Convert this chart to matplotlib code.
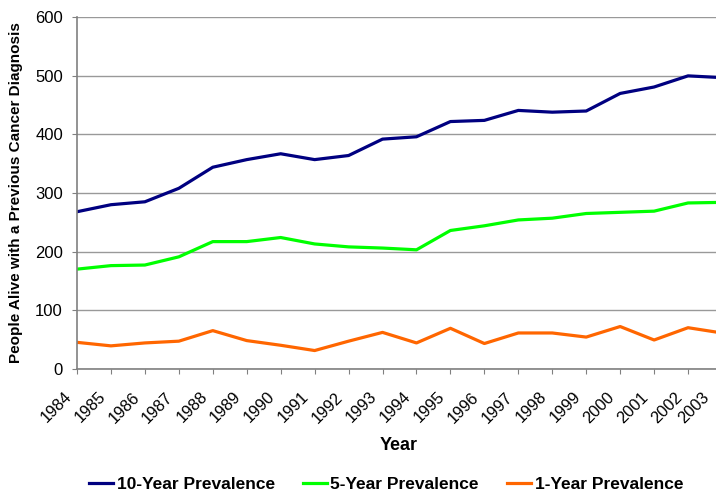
import matplotlib
matplotlib.use('Agg')
import matplotlib.pyplot as plt
import matplotlib.transforms as mtransforms

years = list(range(1984, 2004))
prev_10 = [268, 280, 285, 308, 344, 357, 367, 357, 364, 392, 396, 422, 424, 441, 438, 440, 470, 481, 500, 497]
prev_5 = [170, 176, 177, 191, 217, 217, 224, 213, 208, 206, 203, 236, 244, 254, 257, 265, 267, 269, 283, 284]
prev_1 = [45, 39, 44, 47, 65, 48, 40, 31, 47, 62, 44, 69, 43, 61, 61, 54, 72, 49, 70, 61]

plt.rcParams['font.family'] = ['Liberation Sans', 'DejaVu Sans']

fig = plt.figure(figsize=(7.16, 4.93), dpi=100)
# plot area runs slightly past the right edge, as in the original crop
ax = fig.add_axes([77/716, 1-368.7/493, 645/716, 351.4/493])

ax.plot(years, prev_10, color='#000080', lw=2.3, label='10-Year Prevalence')
ax.plot(years, prev_5, color='#00ff00', lw=2.3, label='5-Year Prevalence')
ax.plot(years, prev_1, color='#ff6600', lw=2.3, label='1-Year Prevalence')

ax.set_xlim(1984, 2003)
ax.set_ylim(0, 600)
ax.set_yticks(range(0, 601, 100))
ax.set_xticks(years)
ax.set_xticklabels([str(y) for y in years], rotation=45, ha='right', va='center', rotation_mode='anchor')
ax.tick_params(axis='both', labelsize=12, color='#808080', length=3.6, direction='out')
ax.tick_params(axis='x', labelsize=11.8, pad=15)
ax.tick_params(axis='y', pad=6.5)

# shift year labels left; the last one more so it stays inside the picture
for i, lab in enumerate(ax.get_xticklabels()):
    dx = -8 if i < len(years) - 1 else -15
    lab.set_transform(lab.get_transform() + mtransforms.ScaledTranslation(dx/100, 0, fig.dpi_scale_trans))

ax.yaxis.grid(True, color='#999999', lw=1)
ax.set_axisbelow(True)
for s in ['top', 'right']:
    ax.spines[s].set_visible(False)
for s in ['left', 'bottom']:
    ax.spines[s].set_color('#808080')
    ax.spines[s].set_linewidth(1.2)

ax.set_xlabel('Year', fontsize=13, fontweight='bold', va='center')
ax.xaxis.set_label_coords((399-77)/645, (368.7-445)/351.4)
ax.set_ylabel('People Alive with a Previous Cancer Diagnosis', fontsize=11, fontweight='bold', va='center')
ax.yaxis.set_label_coords((16-77)/645, 0.5)

fig.legend(loc='center', bbox_to_anchor=(386/716, 1-484/493), ncol=3, frameon=False,
           prop={'size': 12.5, 'weight': 'bold'}, handlelength=1.4, handletextpad=0.2, columnspacing=1.6)

fig.savefig('out.png', dpi=100)
